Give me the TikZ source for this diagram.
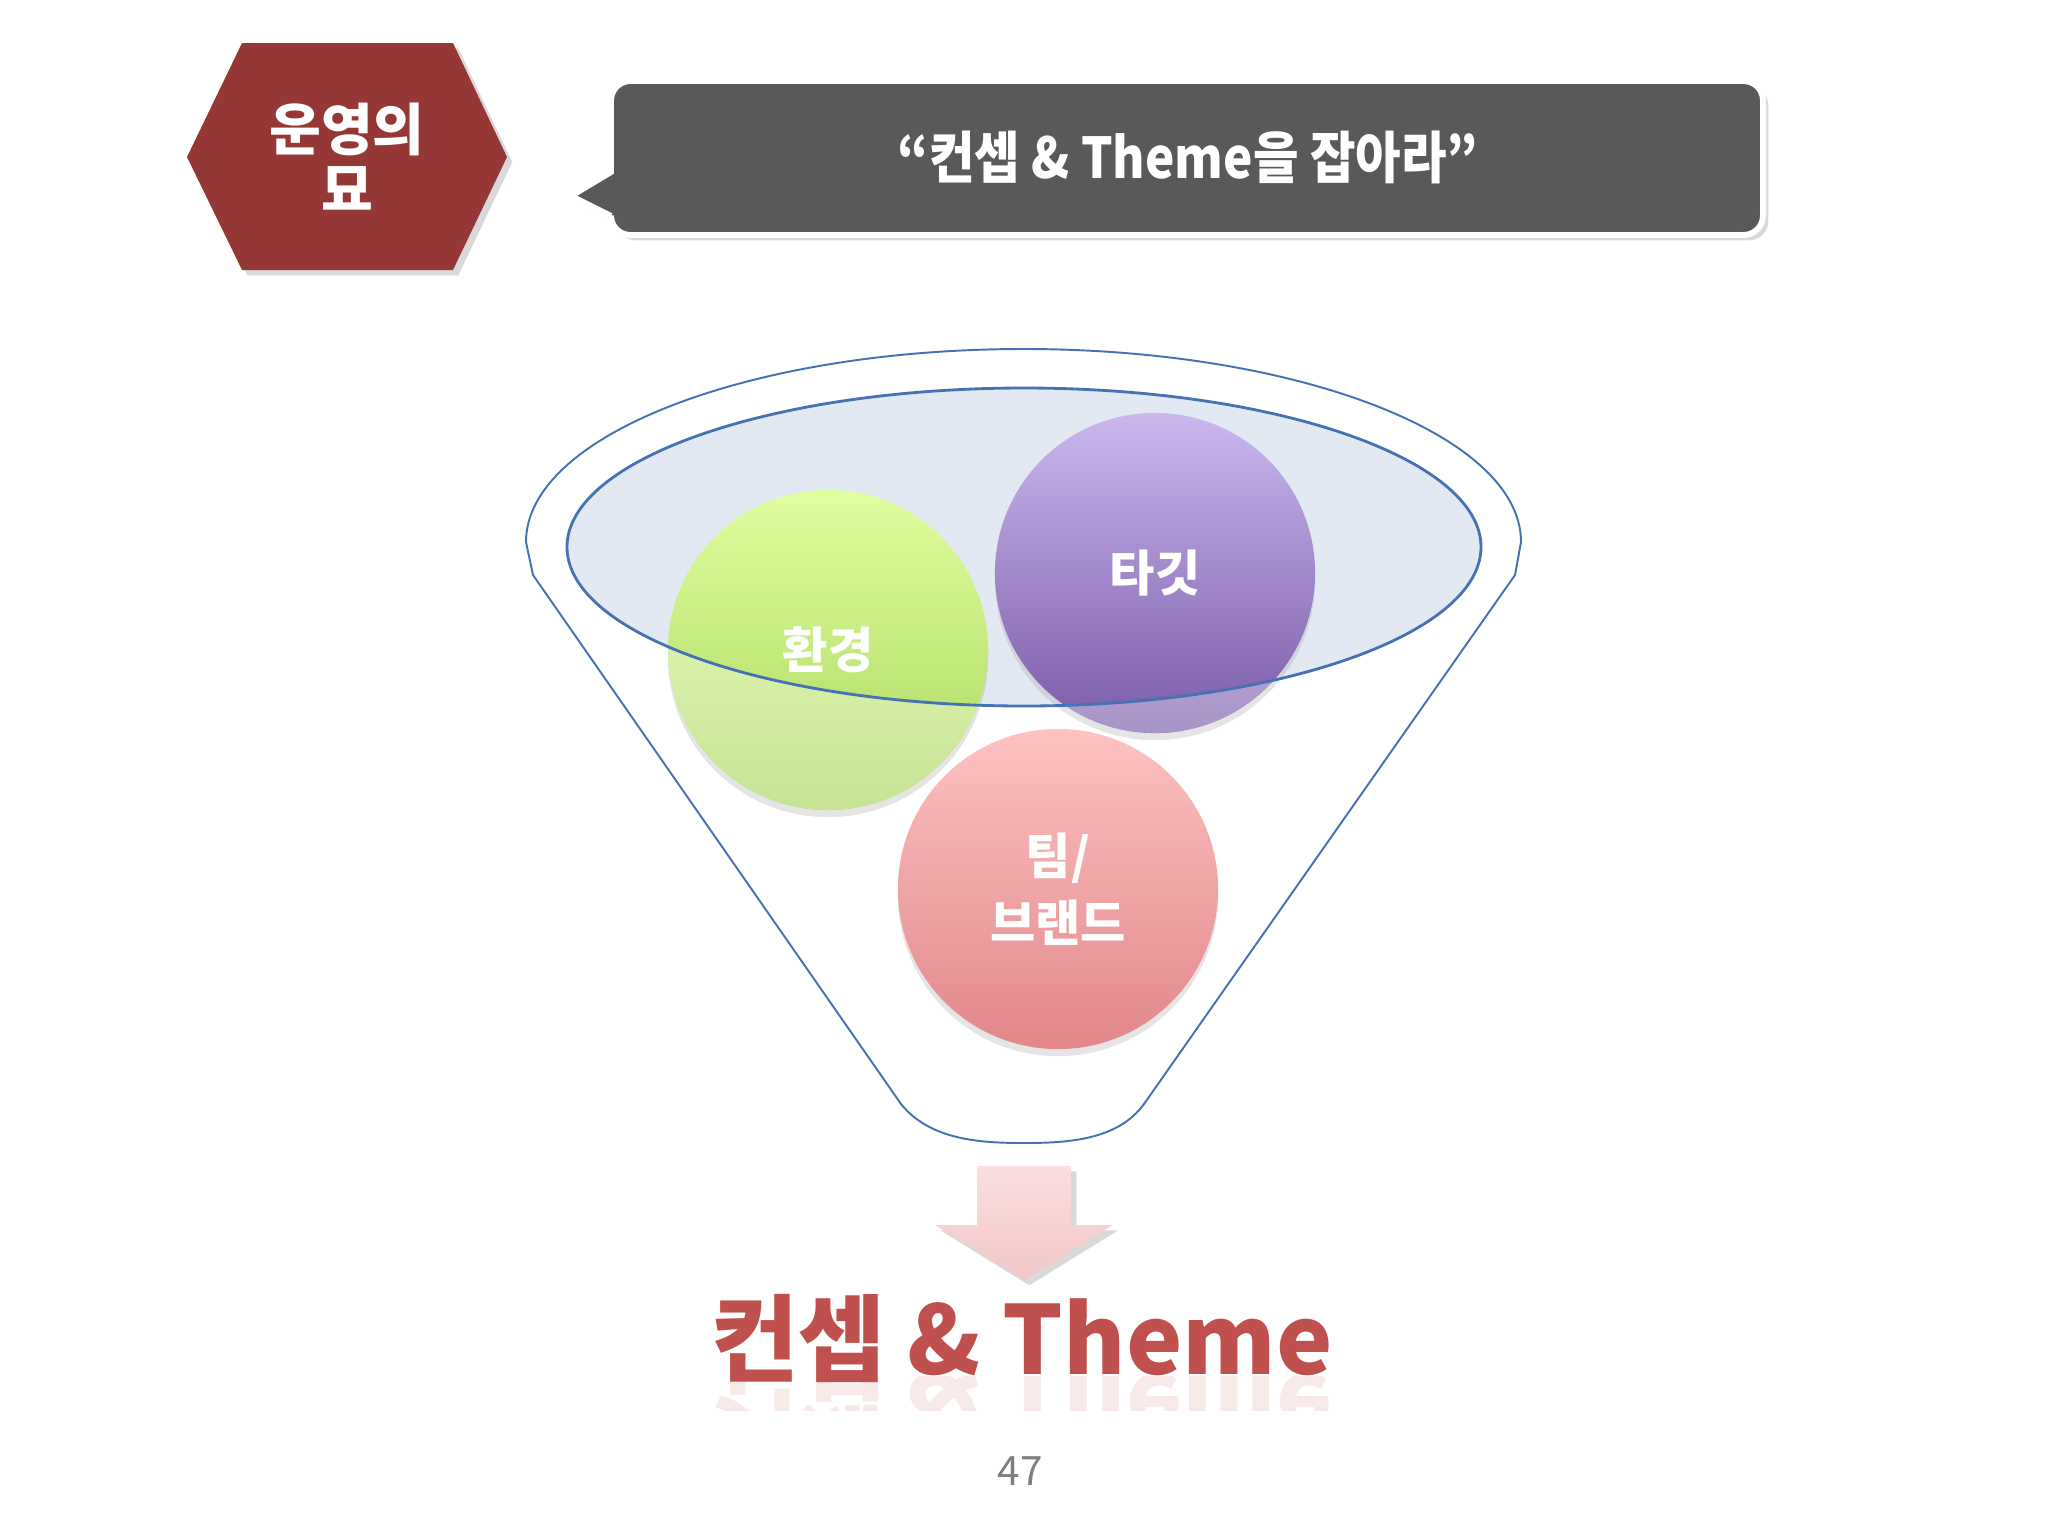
\documentclass[tikz,border=0pt]{standalone}
\usepackage{fontspec}
\setmainfont{Noto Sans CJK KR}
\newfontfamily\krnarrow{Noto Sans CJK KR}[FakeStretch=0.88]
\usetikzlibrary{shadows}
\definecolor{hexred}{HTML}{953735}
\definecolor{bubblegray}{HTML}{595959}
\definecolor{rimblue}{HTML}{4672B4}
\definecolor{ellfill}{HTML}{E2E9F3}
\definecolor{greentop}{HTML}{E0FFA0}
\definecolor{greenbot}{HTML}{A9D65C}
\definecolor{purptop}{HTML}{CBB8EE}
\definecolor{purpbot}{HTML}{7A5AA8}
\definecolor{pinktop}{HTML}{FDC2C2}
\definecolor{pinkbot}{HTML}{E2878A}
\definecolor{arrtop}{HTML}{FBE0E0}
\definecolor{arrbot}{HTML}{F2C6C6}
\definecolor{titlered}{HTML}{C0504D}
\definecolor{numgray}{HTML}{7F7F7F}
\tikzset{softshadow/.style={drop shadow={opacity=.3, shadow xshift=1.5pt, shadow yshift=-1.5pt}}}
\tikzset{bubble/.style={fill=bubblegray, draw=white, line width=1.7pt, softshadow}}
\tikzset{badgetext/.style={text=white, align=center, font=\bfseries\fontsize{16}{17}\selectfont}}
\tikzset{bubbletext/.style={text=white, font=\krnarrow\bfseries\fontsize{16}{17}\selectfont}}
\tikzset{funnel/.style={draw=rimblue, line width=.55pt}}
\tikzset{ball/.style={circle, minimum size=3.2cm, inner sep=0pt, text=white,
  font=\bfseries\fontsize{14}{19}\selectfont,
  drop shadow={opacity=.2, shadow xshift=0pt, shadow yshift=-2pt}}}
\tikzset{arrowfill/.style={top color=arrtop, bottom color=arrbot, softshadow}}
\tikzset{title/.style={text=titlered, font=\bfseries\fontsize{27}{30}\selectfont}}
\tikzset{pagenum/.style={text=numgray, font=\fontsize{11.5}{12}\selectfont}}

\begin{document}
\begin{tikzpicture}[x=0.01cm,y=-0.01cm]
	\useasboundingbox (0,0) rectangle (2048,1536);
	% badge and speech bubble
	\fill[hexred, softshadow] (187,157) -- (242,43) -- (453,43) -- (507,157) -- (453,270) -- (242,270) -- cycle;
	\node[badgetext] (badge) at (347,157) {운영의\\묘};
	\path[bubble] (571,196) -- (611,172) [rounded corners=5.5pt] -- (611,81) -- (1763,81) -- (1763,235) -- (611,235) [sharp corners] -- (611,216) -- cycle;
	\node[bubbletext] (motto) at (1188,157) {“컨셉 \& Theme을 잡아라”};

	% funnel
	\draw[funnel, fill=white] (526,542) arc [start angle=180, end angle=360, x radius=497.5, y radius=193] -- (1515,575) -- (1144,1104) .. controls (1118,1140) and (1068,1143) .. (1024,1143) .. controls (980,1143) and (930,1140) .. (901,1104) -- (533,575) -- cycle;
	\fill[ellfill] (1024,547) ellipse [x radius=457, y radius=159];

	\node[ball, top color=greentop, bottom color=greenbot] (env) at (828,650) {환경};
	\node[ball, top color=purptop, bottom color=purpbot] (tgt) at (1155,573) {타깃};
	\node[ball, top color=pinktop, bottom color=pinkbot, align=center] (team) at (1058,889) {팀/\\브랜드};

	\begin{scope}[even odd rule]
		\clip (0,0) rectangle (2048,1536) (1024,547) ellipse [x radius=457, y radius=159];
		\fill[white, opacity=.35] (env.center) circle [radius=160] (tgt.center) circle [radius=160];
	\end{scope}
	\draw[funnel, line width=.8pt] (1024,547) ellipse [x radius=457, y radius=159];

	% result
	\path[arrowfill] (977,1166) -- (1071,1166) -- (1071,1225) -- (1113,1225) -- (1024,1280) -- (935,1225) -- (977,1225) -- cycle;
	\node[title, anchor=base] (concept) at (1022,1374) {컨셉 \& Theme};
	\begin{scope}
		\clip (600,1376) rectangle (1450,1410);
		\node[title, anchor=base, opacity=.12] (mirror) at (1022,1374) {\scalebox{1}[-1]{컨셉 \& Theme}};
	\end{scope}
	\node[pagenum] (page) at (1020,1471) {47};
\end{tikzpicture}
\end{document}
